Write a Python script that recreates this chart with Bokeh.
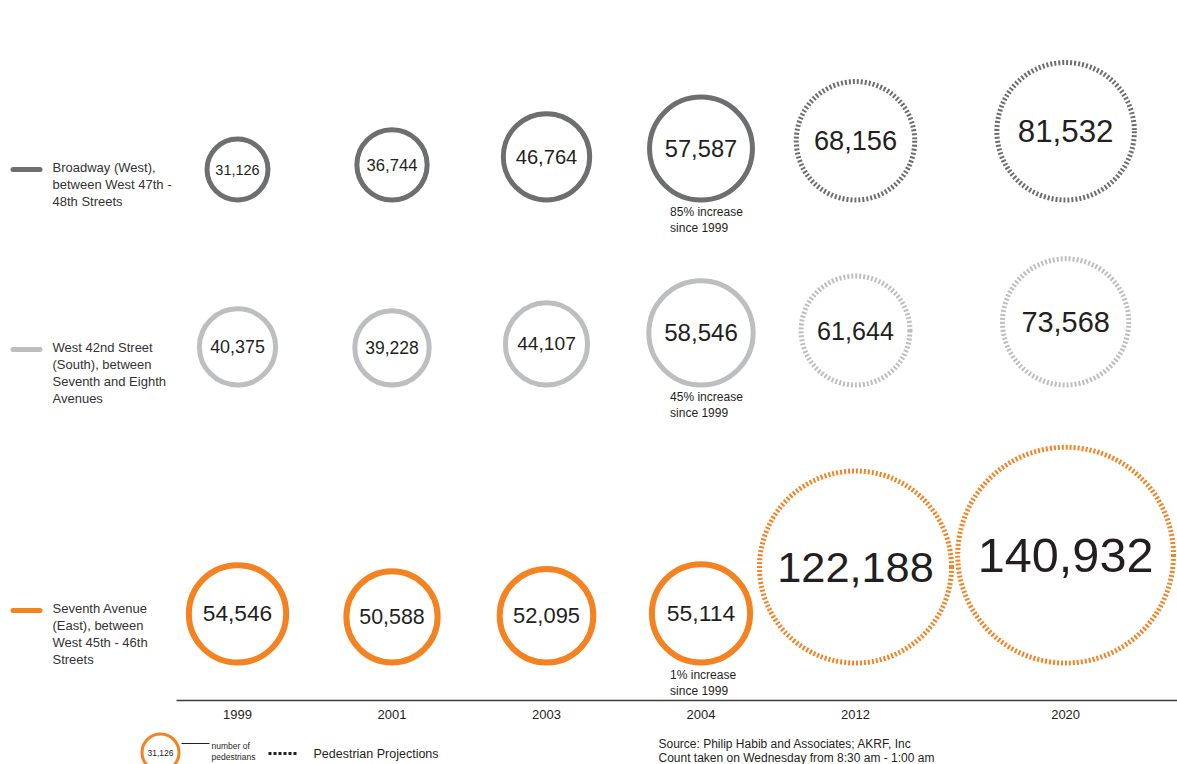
import numpy as np
from bokeh.plotting import figure
from bokeh.layouts import row, column
from bokeh.models import Range1d, FixedTicker, ColumnDataSource
from bokeh.core.properties import value
from bokeh.embed import file_html
from bokeh.resources import INLINE

# ---------------- data ----------------
years = ["1999", "2001", "2003", "2004", "2012", "2020"]
projected = [False, False, False, False, True, True]
streets = [
    "Broadway (West),\nbetween West 47th -\n48th Streets",
    "West 42nd Street\n(South), between\nSeventh and Eighth\nAvenues",
    "Seventh Avenue\n(East), between\nWest 45th - 46th\nStreets",
]
broadway = [31126, 36744, 46764, 57587, 68156, 81532]
west_42nd = [40375, 39228, 44107, 58546, 61644, 73568]
seventh_ave = [54546, 50588, 52095, 55114, 122188, 140932]
base_year, compare_year = "1999", "2004"
key_label = "number of\npedestrians"
projection_label = "Pedestrian Projections"
source_text = "Source: Philip Habib and Associates; AKRF, Inc\nCount taken on Wednesday from 8:30 am - 1:00 am"

series = [broadway, west_42nd, seventh_ave]

# ---------------- style / layout ----------------
colors = ["#6d6e70", "#bcbec0", "#f58220"]
solid_widths = [5, 5, 6]
dash_width = 5
FONT = value("Liberation Sans")
TXT = "#231f20"
FRAME_H = 700
AXIS_H = 30
LEFT_W = 176
MAIN_W = 1001
BOTTOM_H = 34
UNIT = 154.5          # px per column
PROJ_GAP = 0.36       # extra gap before the last projection column
ROW_BASE = [498, 313, 35]      # bottom of circles, px above axis
LEGEND_TOP = [541, 361, 100]   # top of row legend text, px above axis

slots = np.arange(len(years), dtype=float)
slots[-1] += PROJ_GAP
x_start = -61.0 / UNIT
x_end = x_start + MAIN_W / UNIT


def radius_px(v):
    return 52.0 * (v / 55000.0) ** 0.8


def base_fig(**kw):
    f = figure(output_backend="svg", toolbar_location=None,
               min_border_left=0, min_border_right=0, min_border_top=0,
               outline_line_color=None, background_fill_color="white",
               border_fill_color="white", **kw)
    f.grid.visible = False
    return f


# ---------------- main figure ----------------
main = base_fig(width=MAIN_W, height=FRAME_H + AXIS_H,
                x_range=Range1d(x_start, x_end), y_range=Range1d(0, FRAME_H),
                y_axis_type=None, min_border_bottom=AXIS_H)

for ri, vals in enumerate(series):
    vals = np.array(vals, dtype=float)
    r_out = radius_px(vals)
    for is_proj in (False, True):
        mask = np.array(projected) == is_proj
        lw = dash_width if is_proj else solid_widths[ri]
        src = ColumnDataSource(dict(
            x=slots[mask],
            y=ROW_BASE[ri] + r_out[mask],
            r=r_out[mask] - lw / 2.0,
        ))
        main.circle(x="x", y="y", radius="r", radius_units="screen", source=src,
                    fill_color=None, line_color=colors[ri], line_width=lw,
                    line_dash="2 2" if is_proj else "solid")
    tsrc = ColumnDataSource(dict(
        x=slots,
        y=ROW_BASE[ri] + r_out,
        t=[f"{int(v):,}" for v in vals],
        fs=[f"{0.44 * r:.1f}px" for r in r_out],
    ))
    main.text(x="x", y="y", text="t", text_font_size="fs", source=tsrc,
              text_align="center", text_baseline="middle", text_font=FONT,
              text_color=TXT)
    # percent change annotation
    b = vals[years.index(base_year)]
    c = vals[years.index(compare_year)]
    pct = round((c - b) / b * 100)
    main.text(x=[slots[years.index(compare_year)] - 0.2], y=[ROW_BASE[ri] - 2],
              text=[f"{pct}% increase\nsince {base_year}"],
              text_font_size="12px", text_align="left", text_baseline="top",
              text_line_height=1.16, text_font=FONT, text_color=TXT)

ax = main.xaxis[0]
ax.ticker = FixedTicker(ticks=[float(s) for s in slots])
ax.major_label_overrides = {float(s): y for s, y in zip(slots, years)}
ax.axis_line_color = "#3c3c3c"
ax.axis_line_width = 1.6
ax.major_tick_line_color = None
ax.minor_tick_line_color = None
ax.major_tick_out = 0
ax.major_tick_in = 0
ax.major_label_standoff = 9
ax.major_label_text_font_size = "13px"
ax.major_label_text_font = "Liberation Sans"
ax.major_label_text_color = TXT

# ---------------- left legend ----------------
left = base_fig(width=LEFT_W, height=FRAME_H + AXIS_H,
                x_range=Range1d(0, LEFT_W), y_range=Range1d(0, FRAME_H),
                x_axis_type=None, y_axis_type=None, min_border_bottom=AXIS_H)
for ri, label in enumerate(streets):
    yy = LEGEND_TOP[ri] - 10
    left.segment(x0=[12.5], y0=[yy], x1=[39.5], y1=[yy], line_color=colors[ri],
                 line_width=5, line_cap="round")
    left.text(x=[52], y=[LEGEND_TOP[ri]], text=[label], text_font_size="13px",
              text_baseline="top", text_align="left", text_line_height=1.14,
              text_font=FONT, text_color="#333333")

# ---------------- bottom key / source ----------------
bottom = base_fig(width=LEFT_W + MAIN_W, height=BOTTOM_H,
                  x_range=Range1d(0, LEFT_W + MAIN_W), y_range=Range1d(0, BOTTOM_H),
                  x_axis_type=None, y_axis_type=None, min_border_bottom=0)
bottom.circle(x=[160], y=[12], radius=18.5, radius_units="screen", fill_color=None,
              line_color=colors[2], line_width=3)
bottom.text(x=[160], y=[12], text=[f"{broadway[0]:,}"], text_font_size="8.5px",
            text_align="center", text_baseline="middle", text_font=FONT, text_color=TXT)
bottom.segment(x0=[181], y0=[21], x1=[209], y1=[21], line_color=TXT, line_width=1)
bottom.text(x=[211], y=[24], text=[key_label], text_font_size="8.5px",
            text_align="left", text_baseline="top", text_line_height=1.13,
            text_font=FONT, text_color=TXT)
bottom.segment(x0=[268], y0=[11], x1=[297], y1=[11], line_color=TXT, line_width=3,
               line_dash="3 2")
bottom.text(x=[313], y=[11], text=[projection_label], text_font_size="12.5px",
            text_align="left", text_baseline="middle", text_font=FONT, text_color=TXT)
bottom.text(x=[658], y=[28], text=[source_text], text_font_size="12px",
            text_align="left", text_baseline="top", text_line_height=1.02,
            text_font=FONT, text_color=TXT)

layout = column(row(left, main), bottom)
open("out.html", "w").write(file_html(layout, INLINE))
